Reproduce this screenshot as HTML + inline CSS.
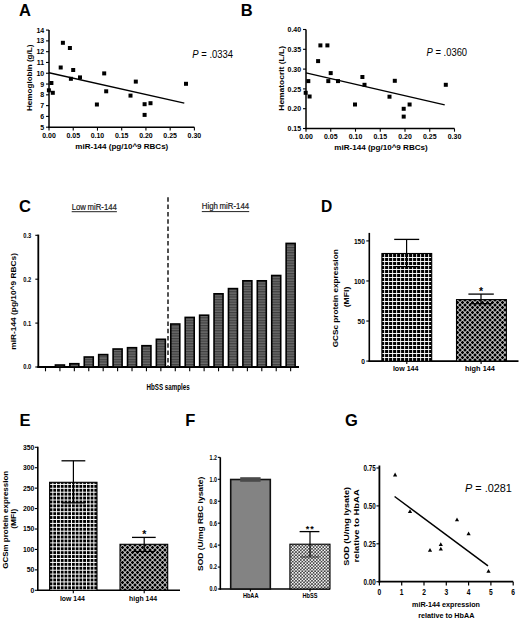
<!DOCTYPE html>
<html><head><meta charset="utf-8"><title>Figure</title>
<style>
html,body{margin:0;padding:0;background:#fff;}
body{width:520px;height:621px;overflow:hidden;}
svg{display:block;font-family:"Liberation Sans", sans-serif;}
</style></head><body>
<svg width="520" height="621" viewBox="0 0 520 621" font-family='"Liberation Sans", sans-serif'>
<rect width="520" height="621" fill="#fff"/>
<defs>
<pattern id="hstripe" width="4" height="2.6" patternUnits="userSpaceOnUse">
  <rect width="4" height="2.6" fill="#6a6a6a"/>
  <rect y="0" width="4" height="1.2" fill="#404040"/>
</pattern>
<pattern id="sq4" x="381" y="254" width="4" height="4" patternUnits="userSpaceOnUse">
  <rect width="4" height="4" fill="#fff"/>
  <rect x="0.1" y="0" width="3.1" height="3.05" fill="#000"/>
</pattern>
<pattern id="sq4e" x="49.6" y="481.0" width="3.73" height="3.9" patternUnits="userSpaceOnUse">
  <rect width="3.73" height="3.9" fill="#fff"/>
  <rect x="0" y="0" width="2.8" height="2.9" fill="#000"/>
</pattern>
<pattern id="xh5" width="5" height="5" patternUnits="userSpaceOnUse">
  <rect width="5" height="5" fill="#000"/>
  <path d="M-1 3.5 L3.5 -1 M1.5 6 L6 1.5 M1.5 -1 L6 3.5 M-1 1.5 L3.5 6" stroke="#fff" stroke-width="1.0"/>
</pattern>
<pattern id="xh3" width="3.2" height="3.2" patternUnits="userSpaceOnUse">
  <rect width="3.2" height="3.2" fill="#000"/>
  <path d="M-0.8 2.4 L2.4 -0.8 M0.8 4.0 L4.0 0.8 M0.8 -0.8 L4.0 2.4 M-0.8 0.8 L2.4 4.0" stroke="#fff" stroke-width="0.85"/>
</pattern>
</defs>
<text x="19.00" y="15.80" font-size="16.5" font-weight="bold" text-anchor="start" >A</text>
<line x1="49.00" y1="30.09" x2="49.00" y2="127.90" stroke="#000" stroke-width="1.5" />
<line x1="48.30" y1="127.20" x2="194.40" y2="127.20" stroke="#000" stroke-width="1.5" />
<line x1="46.00" y1="127.20" x2="49.00" y2="127.20" stroke="#000" stroke-width="1.1" />
<text x="44.20" y="129.70" font-size="7.0" font-weight="bold" text-anchor="end" >5</text>
<line x1="46.00" y1="116.41" x2="49.00" y2="116.41" stroke="#000" stroke-width="1.1" />
<text x="44.20" y="118.91" font-size="7.0" font-weight="bold" text-anchor="end" >6</text>
<line x1="46.00" y1="105.62" x2="49.00" y2="105.62" stroke="#000" stroke-width="1.1" />
<text x="44.20" y="108.12" font-size="7.0" font-weight="bold" text-anchor="end" >7</text>
<line x1="46.00" y1="94.83" x2="49.00" y2="94.83" stroke="#000" stroke-width="1.1" />
<text x="44.20" y="97.33" font-size="7.0" font-weight="bold" text-anchor="end" >8</text>
<line x1="46.00" y1="84.04" x2="49.00" y2="84.04" stroke="#000" stroke-width="1.1" />
<text x="44.20" y="86.54" font-size="7.0" font-weight="bold" text-anchor="end" >9</text>
<line x1="46.00" y1="73.25" x2="49.00" y2="73.25" stroke="#000" stroke-width="1.1" />
<text x="44.20" y="75.75" font-size="7.0" font-weight="bold" text-anchor="end" >10</text>
<line x1="46.00" y1="62.46" x2="49.00" y2="62.46" stroke="#000" stroke-width="1.1" />
<text x="44.20" y="64.96" font-size="7.0" font-weight="bold" text-anchor="end" >11</text>
<line x1="46.00" y1="51.67" x2="49.00" y2="51.67" stroke="#000" stroke-width="1.1" />
<text x="44.20" y="54.17" font-size="7.0" font-weight="bold" text-anchor="end" >12</text>
<line x1="46.00" y1="40.88" x2="49.00" y2="40.88" stroke="#000" stroke-width="1.1" />
<text x="44.20" y="43.38" font-size="7.0" font-weight="bold" text-anchor="end" >13</text>
<line x1="46.00" y1="30.09" x2="49.00" y2="30.09" stroke="#000" stroke-width="1.1" />
<text x="44.20" y="32.59" font-size="7.0" font-weight="bold" text-anchor="end" >14</text>
<line x1="49.00" y1="127.20" x2="49.00" y2="130.60" stroke="#000" stroke-width="1.1" />
<text x="49.00" y="137.50" font-size="7.5" font-weight="bold" text-anchor="middle" textLength="13.6" lengthAdjust="spacingAndGlyphs" >0.00</text>
<line x1="73.23" y1="127.20" x2="73.23" y2="130.60" stroke="#000" stroke-width="1.1" />
<text x="73.23" y="137.50" font-size="7.5" font-weight="bold" text-anchor="middle" textLength="13.6" lengthAdjust="spacingAndGlyphs" >0.05</text>
<line x1="97.47" y1="127.20" x2="97.47" y2="130.60" stroke="#000" stroke-width="1.1" />
<text x="97.47" y="137.50" font-size="7.5" font-weight="bold" text-anchor="middle" textLength="13.6" lengthAdjust="spacingAndGlyphs" >0.10</text>
<line x1="121.70" y1="127.20" x2="121.70" y2="130.60" stroke="#000" stroke-width="1.1" />
<text x="121.70" y="137.50" font-size="7.5" font-weight="bold" text-anchor="middle" textLength="13.6" lengthAdjust="spacingAndGlyphs" >0.15</text>
<line x1="145.93" y1="127.20" x2="145.93" y2="130.60" stroke="#000" stroke-width="1.1" />
<text x="145.93" y="137.50" font-size="7.5" font-weight="bold" text-anchor="middle" textLength="13.6" lengthAdjust="spacingAndGlyphs" >0.20</text>
<line x1="170.17" y1="127.20" x2="170.17" y2="130.60" stroke="#000" stroke-width="1.1" />
<text x="170.17" y="137.50" font-size="7.5" font-weight="bold" text-anchor="middle" textLength="13.6" lengthAdjust="spacingAndGlyphs" >0.25</text>
<line x1="194.40" y1="127.20" x2="194.40" y2="130.60" stroke="#000" stroke-width="1.1" />
<text x="194.40" y="137.50" font-size="7.5" font-weight="bold" text-anchor="middle" textLength="13.6" lengthAdjust="spacingAndGlyphs" >0.30</text>
<text x="121.80" y="148.50" font-size="8" font-weight="bold" text-anchor="middle" textLength="93" lengthAdjust="spacingAndGlyphs" >miR-144 (pg/10^9 RBCs)</text>
<text x="32.30" y="77.80" font-size="7.0" font-weight="bold" text-anchor="middle" textLength="66.4" lengthAdjust="spacingAndGlyphs" transform="rotate(-90 32.30 77.80)" >Hemoglobin (g/L)</text>
<rect x="60.90" y="40.80" width="4.00" height="4.00" fill="#000"/>
<rect x="67.90" y="46.00" width="4.00" height="4.00" fill="#000"/>
<rect x="58.70" y="65.50" width="4.00" height="4.00" fill="#000"/>
<rect x="71.20" y="68.00" width="4.00" height="4.00" fill="#000"/>
<rect x="68.90" y="76.80" width="4.00" height="4.00" fill="#000"/>
<rect x="78.00" y="75.40" width="4.00" height="4.00" fill="#000"/>
<rect x="102.20" y="71.40" width="4.00" height="4.00" fill="#000"/>
<rect x="104.20" y="89.30" width="4.00" height="4.00" fill="#000"/>
<rect x="94.90" y="102.50" width="4.00" height="4.00" fill="#000"/>
<rect x="49.40" y="81.00" width="4.00" height="4.00" fill="#000"/>
<rect x="46.90" y="88.30" width="4.00" height="4.00" fill="#000"/>
<rect x="50.80" y="90.80" width="4.00" height="4.00" fill="#000"/>
<rect x="133.80" y="79.60" width="4.00" height="4.00" fill="#000"/>
<rect x="128.50" y="93.60" width="4.00" height="4.00" fill="#000"/>
<rect x="142.60" y="102.20" width="4.00" height="4.00" fill="#000"/>
<rect x="148.50" y="101.20" width="4.00" height="4.00" fill="#000"/>
<rect x="142.60" y="112.90" width="4.00" height="4.00" fill="#000"/>
<rect x="184.00" y="81.80" width="4.00" height="4.00" fill="#000"/>
<line x1="49.00" y1="72.70" x2="184.30" y2="103.10" stroke="#000" stroke-width="1.4" />
<text x="192.3" y="57.8" font-size="10" textLength="40.8" lengthAdjust="spacingAndGlyphs" font-family='"Liberation Sans", sans-serif'><tspan font-style="italic">P</tspan> = .0334</text>
<text x="240.80" y="15.80" font-size="16.5" font-weight="bold" text-anchor="start" >B</text>
<line x1="306.00" y1="29.50" x2="306.00" y2="129.20" stroke="#000" stroke-width="1.5" />
<line x1="305.30" y1="128.50" x2="454.50" y2="128.50" stroke="#000" stroke-width="1.5" />
<line x1="303.00" y1="128.50" x2="306.00" y2="128.50" stroke="#000" stroke-width="1.1" />
<text x="301.10" y="131.10" font-size="7.4" font-weight="bold" text-anchor="end" textLength="13.6" lengthAdjust="spacingAndGlyphs" >0.15</text>
<line x1="303.00" y1="108.70" x2="306.00" y2="108.70" stroke="#000" stroke-width="1.1" />
<text x="301.10" y="111.30" font-size="7.4" font-weight="bold" text-anchor="end" textLength="13.6" lengthAdjust="spacingAndGlyphs" >0.20</text>
<line x1="303.00" y1="88.90" x2="306.00" y2="88.90" stroke="#000" stroke-width="1.1" />
<text x="301.10" y="91.50" font-size="7.4" font-weight="bold" text-anchor="end" textLength="13.6" lengthAdjust="spacingAndGlyphs" >0.25</text>
<line x1="303.00" y1="69.10" x2="306.00" y2="69.10" stroke="#000" stroke-width="1.1" />
<text x="301.10" y="71.70" font-size="7.4" font-weight="bold" text-anchor="end" textLength="13.6" lengthAdjust="spacingAndGlyphs" >0.30</text>
<line x1="303.00" y1="49.30" x2="306.00" y2="49.30" stroke="#000" stroke-width="1.1" />
<text x="301.10" y="51.90" font-size="7.4" font-weight="bold" text-anchor="end" textLength="13.6" lengthAdjust="spacingAndGlyphs" >0.35</text>
<line x1="303.00" y1="29.50" x2="306.00" y2="29.50" stroke="#000" stroke-width="1.1" />
<text x="301.10" y="32.10" font-size="7.4" font-weight="bold" text-anchor="end" textLength="13.6" lengthAdjust="spacingAndGlyphs" >0.40</text>
<line x1="306.00" y1="128.50" x2="306.00" y2="131.70" stroke="#000" stroke-width="1.1" />
<text x="306.00" y="138.80" font-size="7.5" font-weight="bold" text-anchor="middle" textLength="13.6" lengthAdjust="spacingAndGlyphs" >0.00</text>
<line x1="330.75" y1="128.50" x2="330.75" y2="131.70" stroke="#000" stroke-width="1.1" />
<text x="330.75" y="138.80" font-size="7.5" font-weight="bold" text-anchor="middle" textLength="13.6" lengthAdjust="spacingAndGlyphs" >0.05</text>
<line x1="355.50" y1="128.50" x2="355.50" y2="131.70" stroke="#000" stroke-width="1.1" />
<text x="355.50" y="138.80" font-size="7.5" font-weight="bold" text-anchor="middle" textLength="13.6" lengthAdjust="spacingAndGlyphs" >0.10</text>
<line x1="380.25" y1="128.50" x2="380.25" y2="131.70" stroke="#000" stroke-width="1.1" />
<text x="380.25" y="138.80" font-size="7.5" font-weight="bold" text-anchor="middle" textLength="13.6" lengthAdjust="spacingAndGlyphs" >0.15</text>
<line x1="405.00" y1="128.50" x2="405.00" y2="131.70" stroke="#000" stroke-width="1.1" />
<text x="405.00" y="138.80" font-size="7.5" font-weight="bold" text-anchor="middle" textLength="13.6" lengthAdjust="spacingAndGlyphs" >0.20</text>
<line x1="429.75" y1="128.50" x2="429.75" y2="131.70" stroke="#000" stroke-width="1.1" />
<text x="429.75" y="138.80" font-size="7.5" font-weight="bold" text-anchor="middle" textLength="13.6" lengthAdjust="spacingAndGlyphs" >0.25</text>
<line x1="454.50" y1="128.50" x2="454.50" y2="131.70" stroke="#000" stroke-width="1.1" />
<text x="454.50" y="138.80" font-size="7.5" font-weight="bold" text-anchor="middle" textLength="13.6" lengthAdjust="spacingAndGlyphs" >0.30</text>
<text x="381.00" y="150.40" font-size="8" font-weight="bold" text-anchor="middle" textLength="93.5" lengthAdjust="spacingAndGlyphs" >miR-144 (pg/10^9 RBCs)</text>
<text x="283.60" y="78.30" font-size="7.0" font-weight="bold" text-anchor="middle" textLength="64.8" lengthAdjust="spacingAndGlyphs" transform="rotate(-90 283.60 78.30)" >Hematocrit (L/L)</text>
<rect x="318.40" y="43.40" width="4.00" height="4.00" fill="#000"/>
<rect x="325.40" y="43.40" width="4.00" height="4.00" fill="#000"/>
<rect x="316.10" y="59.10" width="4.00" height="4.00" fill="#000"/>
<rect x="328.70" y="71.10" width="4.00" height="4.00" fill="#000"/>
<rect x="326.30" y="79.10" width="4.00" height="4.00" fill="#000"/>
<rect x="336.00" y="79.10" width="4.00" height="4.00" fill="#000"/>
<rect x="306.30" y="79.10" width="4.00" height="4.00" fill="#000"/>
<rect x="303.70" y="90.80" width="4.00" height="4.00" fill="#000"/>
<rect x="307.60" y="94.50" width="4.00" height="4.00" fill="#000"/>
<rect x="360.40" y="75.00" width="4.00" height="4.00" fill="#000"/>
<rect x="362.50" y="82.80" width="4.00" height="4.00" fill="#000"/>
<rect x="353.00" y="102.50" width="4.00" height="4.00" fill="#000"/>
<rect x="392.80" y="78.80" width="4.00" height="4.00" fill="#000"/>
<rect x="387.50" y="94.70" width="4.00" height="4.00" fill="#000"/>
<rect x="401.70" y="106.80" width="4.00" height="4.00" fill="#000"/>
<rect x="407.60" y="102.50" width="4.00" height="4.00" fill="#000"/>
<rect x="401.70" y="114.60" width="4.00" height="4.00" fill="#000"/>
<rect x="443.80" y="82.80" width="4.00" height="4.00" fill="#000"/>
<line x1="306.00" y1="72.90" x2="444.70" y2="104.90" stroke="#000" stroke-width="1.4" />
<text x="426.6" y="55.5" font-size="10" textLength="40.5" lengthAdjust="spacingAndGlyphs" font-family='"Liberation Sans", sans-serif'><tspan font-style="italic">P</tspan> = .0360</text>
<text x="19.00" y="212.40" font-size="16.5" font-weight="bold" text-anchor="start" >C</text>
<line x1="38.30" y1="234.60" x2="38.30" y2="367.90" stroke="#000" stroke-width="1.8" />
<line x1="37.40" y1="367.00" x2="299.00" y2="367.00" stroke="#000" stroke-width="1.8" />
<line x1="35.30" y1="367.00" x2="38.30" y2="367.00" stroke="#000" stroke-width="1.1" />
<text x="31.20" y="369.40" font-size="7.2" font-weight="bold" text-anchor="end" textLength="8.0" lengthAdjust="spacingAndGlyphs" >0.0</text>
<line x1="35.30" y1="323.10" x2="38.30" y2="323.10" stroke="#000" stroke-width="1.1" />
<text x="31.20" y="325.50" font-size="7.2" font-weight="bold" text-anchor="end" textLength="8.0" lengthAdjust="spacingAndGlyphs" >0.1</text>
<line x1="35.30" y1="279.20" x2="38.30" y2="279.20" stroke="#000" stroke-width="1.1" />
<text x="31.20" y="281.60" font-size="7.2" font-weight="bold" text-anchor="end" textLength="8.0" lengthAdjust="spacingAndGlyphs" >0.2</text>
<line x1="35.30" y1="235.30" x2="38.30" y2="235.30" stroke="#000" stroke-width="1.1" />
<text x="31.20" y="237.70" font-size="7.2" font-weight="bold" text-anchor="end" textLength="8.0" lengthAdjust="spacingAndGlyphs" >0.3</text>
<line x1="45.50" y1="367.00" x2="45.50" y2="371.30" stroke="#000" stroke-width="1.1" />
<line x1="59.92" y1="367.00" x2="59.92" y2="371.30" stroke="#000" stroke-width="1.1" />
<rect x="55.42" y="365.00" width="9.0" height="2.00" fill="url(#hstripe)" stroke="#000" stroke-width="1.6"/>
<line x1="74.34" y1="367.00" x2="74.34" y2="371.30" stroke="#000" stroke-width="1.1" />
<rect x="69.84" y="363.70" width="9.0" height="3.30" fill="url(#hstripe)" stroke="#000" stroke-width="1.6"/>
<line x1="88.76" y1="367.00" x2="88.76" y2="371.30" stroke="#000" stroke-width="1.1" />
<rect x="84.26" y="357.00" width="9.0" height="10.00" fill="url(#hstripe)" stroke="#000" stroke-width="1.6"/>
<line x1="103.18" y1="367.00" x2="103.18" y2="371.30" stroke="#000" stroke-width="1.1" />
<rect x="98.68" y="354.60" width="9.0" height="12.40" fill="url(#hstripe)" stroke="#000" stroke-width="1.6"/>
<line x1="117.60" y1="367.00" x2="117.60" y2="371.30" stroke="#000" stroke-width="1.1" />
<rect x="113.10" y="349.00" width="9.0" height="18.00" fill="url(#hstripe)" stroke="#000" stroke-width="1.6"/>
<line x1="132.02" y1="367.00" x2="132.02" y2="371.30" stroke="#000" stroke-width="1.1" />
<rect x="127.52" y="347.70" width="9.0" height="19.30" fill="url(#hstripe)" stroke="#000" stroke-width="1.6"/>
<line x1="146.44" y1="367.00" x2="146.44" y2="371.30" stroke="#000" stroke-width="1.1" />
<rect x="141.94" y="345.70" width="9.0" height="21.30" fill="url(#hstripe)" stroke="#000" stroke-width="1.6"/>
<line x1="160.86" y1="367.00" x2="160.86" y2="371.30" stroke="#000" stroke-width="1.1" />
<rect x="156.36" y="339.30" width="9.0" height="27.70" fill="url(#hstripe)" stroke="#000" stroke-width="1.6"/>
<line x1="175.28" y1="367.00" x2="175.28" y2="371.30" stroke="#000" stroke-width="1.1" />
<rect x="170.78" y="324.00" width="9.0" height="43.00" fill="url(#hstripe)" stroke="#000" stroke-width="1.6"/>
<line x1="189.70" y1="367.00" x2="189.70" y2="371.30" stroke="#000" stroke-width="1.1" />
<rect x="185.20" y="317.40" width="9.0" height="49.60" fill="url(#hstripe)" stroke="#000" stroke-width="1.6"/>
<line x1="204.12" y1="367.00" x2="204.12" y2="371.30" stroke="#000" stroke-width="1.1" />
<rect x="199.62" y="315.20" width="9.0" height="51.80" fill="url(#hstripe)" stroke="#000" stroke-width="1.6"/>
<line x1="218.54" y1="367.00" x2="218.54" y2="371.30" stroke="#000" stroke-width="1.1" />
<rect x="214.04" y="293.80" width="9.0" height="73.20" fill="url(#hstripe)" stroke="#000" stroke-width="1.6"/>
<line x1="232.96" y1="367.00" x2="232.96" y2="371.30" stroke="#000" stroke-width="1.1" />
<rect x="228.46" y="288.60" width="9.0" height="78.40" fill="url(#hstripe)" stroke="#000" stroke-width="1.6"/>
<line x1="247.38" y1="367.00" x2="247.38" y2="371.30" stroke="#000" stroke-width="1.1" />
<rect x="242.88" y="280.80" width="9.0" height="86.20" fill="url(#hstripe)" stroke="#000" stroke-width="1.6"/>
<line x1="261.80" y1="367.00" x2="261.80" y2="371.30" stroke="#000" stroke-width="1.1" />
<rect x="257.30" y="280.80" width="9.0" height="86.20" fill="url(#hstripe)" stroke="#000" stroke-width="1.6"/>
<line x1="276.22" y1="367.00" x2="276.22" y2="371.30" stroke="#000" stroke-width="1.1" />
<rect x="271.72" y="275.50" width="9.0" height="91.50" fill="url(#hstripe)" stroke="#000" stroke-width="1.6"/>
<line x1="290.64" y1="367.00" x2="290.64" y2="371.30" stroke="#000" stroke-width="1.1" />
<rect x="286.14" y="243.40" width="9.0" height="123.60" fill="url(#hstripe)" stroke="#000" stroke-width="1.6"/>
<line x1="168.00" y1="197.30" x2="168.00" y2="367.00" stroke="#181818" stroke-width="1.5" stroke-dasharray="4.5 2.8"/>
<text x="71.70" y="209.50" font-size="8.8" font-weight="normal" text-anchor="start" textLength="45.2" lengthAdjust="spacingAndGlyphs" fill="#1a1a1a" stroke="#1a1a1a" stroke-width="0.2" word-spacing="-0.7">Low miR-144</text>
<line x1="71.70" y1="211.70" x2="116.90" y2="211.70" stroke="#222" stroke-width="1.0" />
<text x="201.80" y="209.20" font-size="8.8" font-weight="normal" text-anchor="start" textLength="47.4" lengthAdjust="spacingAndGlyphs" fill="#1a1a1a" stroke="#1a1a1a" stroke-width="0.2" word-spacing="-0.7">High miR-144</text>
<line x1="201.80" y1="211.60" x2="249.20" y2="211.60" stroke="#222" stroke-width="1.0" />
<text x="146.60" y="389.80" font-size="8.3" font-weight="bold" text-anchor="start" textLength="43.1" lengthAdjust="spacingAndGlyphs" >HbSS samples</text>
<text x="15.80" y="301.40" font-size="6.5" font-weight="bold" text-anchor="middle" textLength="96.7" lengthAdjust="spacingAndGlyphs" transform="rotate(-90 15.80 301.40)" >miR-144 (pg/10^9 RBCs)</text>
<text x="320.90" y="212.20" font-size="15.6" font-weight="bold" text-anchor="start" >D</text>
<line x1="369.30" y1="232.90" x2="369.30" y2="361.90" stroke="#000" stroke-width="1.6" />
<line x1="368.50" y1="361.10" x2="518.50" y2="361.10" stroke="#000" stroke-width="1.6" />
<line x1="366.30" y1="361.10" x2="369.30" y2="361.10" stroke="#000" stroke-width="1.1" />
<text x="364.90" y="363.80" font-size="7.5" font-weight="bold" text-anchor="end" textLength="3.67" lengthAdjust="spacingAndGlyphs" >0</text>
<line x1="366.30" y1="321.04" x2="369.30" y2="321.04" stroke="#000" stroke-width="1.1" />
<text x="364.90" y="323.74" font-size="7.5" font-weight="bold" text-anchor="end" textLength="7.34" lengthAdjust="spacingAndGlyphs" >50</text>
<line x1="366.30" y1="280.97" x2="369.30" y2="280.97" stroke="#000" stroke-width="1.1" />
<text x="364.90" y="283.67" font-size="7.5" font-weight="bold" text-anchor="end" textLength="11.01" lengthAdjust="spacingAndGlyphs" >100</text>
<line x1="366.30" y1="240.91" x2="369.30" y2="240.91" stroke="#000" stroke-width="1.1" />
<text x="364.90" y="243.61" font-size="7.5" font-weight="bold" text-anchor="end" textLength="11.01" lengthAdjust="spacingAndGlyphs" >150</text>
<rect x="381.9" y="253.5" width="49.8" height="107.80" fill="url(#sq4)" stroke="#000" stroke-width="1.1"/>
<rect x="456.5" y="299.6" width="49.9" height="61.50" fill="url(#xh5)" stroke="#000" stroke-width="1.1"/>
<line x1="406.60" y1="239.40" x2="406.60" y2="266.60" stroke="#000" stroke-width="1.2" />
<line x1="394.20" y1="239.40" x2="419.20" y2="239.40" stroke="#000" stroke-width="1.3" />
<line x1="396.00" y1="266.60" x2="418.80" y2="266.60" stroke="#000" stroke-width="1.2" />
<line x1="481.00" y1="294.10" x2="481.00" y2="303.70" stroke="#000" stroke-width="1.2" />
<line x1="468.40" y1="294.10" x2="493.80" y2="294.10" stroke="#000" stroke-width="1.3" />
<line x1="470.00" y1="303.70" x2="492.00" y2="303.70" stroke="#000" stroke-width="1.2" />
<text x="481.00" y="294.80" font-size="10.5" font-weight="bold" text-anchor="middle" >*</text>
<line x1="406.80" y1="361.10" x2="406.80" y2="364.10" stroke="#000" stroke-width="1.1" />
<line x1="481.10" y1="361.10" x2="481.10" y2="364.10" stroke="#000" stroke-width="1.1" />
<text x="405.70" y="371.40" font-size="7.2" font-weight="bold" text-anchor="middle" textLength="25.6" lengthAdjust="spacingAndGlyphs" >low 144</text>
<text x="480.00" y="371.40" font-size="7.2" font-weight="bold" text-anchor="middle" textLength="29.8" lengthAdjust="spacingAndGlyphs" >high 144</text>
<text x="338.50" y="298.30" font-size="7.0" font-weight="bold" text-anchor="middle" textLength="97.9" lengthAdjust="spacingAndGlyphs" transform="rotate(-90 338.50 298.30)" >GCSc protein expression</text>
<text x="349.00" y="297.00" font-size="6.8" font-weight="bold" text-anchor="middle" textLength="20.5" lengthAdjust="spacingAndGlyphs" transform="rotate(-90 349.00 297.00)" >(MFI)</text>
<text x="19.50" y="426.00" font-size="16.5" font-weight="bold" text-anchor="start" >E</text>
<line x1="37.80" y1="446.70" x2="37.80" y2="591.10" stroke="#000" stroke-width="1.6" />
<line x1="37.00" y1="590.30" x2="180.00" y2="590.30" stroke="#000" stroke-width="1.6" />
<line x1="34.80" y1="590.30" x2="37.80" y2="590.30" stroke="#000" stroke-width="1.1" />
<text x="34.40" y="592.70" font-size="6.8" font-weight="bold" text-anchor="end" >0</text>
<line x1="34.80" y1="569.87" x2="37.80" y2="569.87" stroke="#000" stroke-width="1.1" />
<text x="34.40" y="572.27" font-size="6.8" font-weight="bold" text-anchor="end" >50</text>
<line x1="34.80" y1="549.44" x2="37.80" y2="549.44" stroke="#000" stroke-width="1.1" />
<text x="34.40" y="551.84" font-size="6.8" font-weight="bold" text-anchor="end" >100</text>
<line x1="34.80" y1="529.01" x2="37.80" y2="529.01" stroke="#000" stroke-width="1.1" />
<text x="34.40" y="531.41" font-size="6.8" font-weight="bold" text-anchor="end" >150</text>
<line x1="34.80" y1="508.58" x2="37.80" y2="508.58" stroke="#000" stroke-width="1.1" />
<text x="34.40" y="510.98" font-size="6.8" font-weight="bold" text-anchor="end" >200</text>
<line x1="34.80" y1="488.15" x2="37.80" y2="488.15" stroke="#000" stroke-width="1.1" />
<text x="34.40" y="490.55" font-size="6.8" font-weight="bold" text-anchor="end" >250</text>
<line x1="34.80" y1="467.72" x2="37.80" y2="467.72" stroke="#000" stroke-width="1.1" />
<text x="34.40" y="470.12" font-size="6.8" font-weight="bold" text-anchor="end" >300</text>
<line x1="34.80" y1="447.29" x2="37.80" y2="447.29" stroke="#000" stroke-width="1.1" />
<text x="34.40" y="449.69" font-size="6.8" font-weight="bold" text-anchor="end" >350</text>
<rect x="49.6" y="482.3" width="47.4" height="108.00" fill="url(#sq4e)" stroke="#000" stroke-width="1.1"/>
<rect x="120.0" y="544.3" width="47.7" height="46.00" fill="url(#xh5)" stroke="#000" stroke-width="1.1"/>
<line x1="73.40" y1="460.80" x2="73.40" y2="502.80" stroke="#000" stroke-width="1.2" />
<line x1="61.50" y1="460.80" x2="85.30" y2="460.80" stroke="#000" stroke-width="1.3" />
<line x1="62.00" y1="502.80" x2="85.00" y2="502.80" stroke="#000" stroke-width="1.2" />
<line x1="144.20" y1="537.40" x2="144.20" y2="551.50" stroke="#000" stroke-width="1.2" />
<line x1="132.00" y1="537.40" x2="155.70" y2="537.40" stroke="#000" stroke-width="1.3" />
<line x1="133.00" y1="551.50" x2="155.00" y2="551.50" stroke="#000" stroke-width="1.2" />
<text x="144.20" y="537.60" font-size="10.5" font-weight="bold" text-anchor="middle" >*</text>
<line x1="73.30" y1="590.30" x2="73.30" y2="593.30" stroke="#000" stroke-width="1.1" />
<line x1="144.20" y1="590.30" x2="144.20" y2="593.30" stroke="#000" stroke-width="1.1" />
<text x="72.40" y="600.80" font-size="6.9" font-weight="bold" text-anchor="middle" >low 144</text>
<text x="143.10" y="600.80" font-size="6.9" font-weight="bold" text-anchor="middle" >high 144</text>
<text x="8.10" y="519.80" font-size="6.5" font-weight="bold" text-anchor="middle" textLength="97.9" lengthAdjust="spacingAndGlyphs" transform="rotate(-90 8.10 519.80)" >GCSm protein expression</text>
<text x="16.50" y="518.70" font-size="6.8" font-weight="bold" text-anchor="middle" textLength="20.0" lengthAdjust="spacingAndGlyphs" transform="rotate(-90 16.50 518.70)" >(MFI)</text>
<text x="185.20" y="426.10" font-size="16.5" font-weight="bold" text-anchor="start" >F</text>
<line x1="220.30" y1="457.30" x2="220.30" y2="589.80" stroke="#000" stroke-width="1.6" />
<line x1="219.50" y1="589.00" x2="330.00" y2="589.00" stroke="#000" stroke-width="1.6" />
<line x1="217.80" y1="589.00" x2="220.30" y2="589.00" stroke="#000" stroke-width="1.1" />
<text x="216.90" y="591.40" font-size="6.7" font-weight="bold" text-anchor="end" textLength="7.4" lengthAdjust="spacingAndGlyphs" >0.0</text>
<line x1="217.80" y1="567.06" x2="220.30" y2="567.06" stroke="#000" stroke-width="1.1" />
<text x="216.90" y="569.46" font-size="6.7" font-weight="bold" text-anchor="end" textLength="7.4" lengthAdjust="spacingAndGlyphs" >0.2</text>
<line x1="217.80" y1="545.12" x2="220.30" y2="545.12" stroke="#000" stroke-width="1.1" />
<text x="216.90" y="547.52" font-size="6.7" font-weight="bold" text-anchor="end" textLength="7.4" lengthAdjust="spacingAndGlyphs" >0.4</text>
<line x1="217.80" y1="523.18" x2="220.30" y2="523.18" stroke="#000" stroke-width="1.1" />
<text x="216.90" y="525.58" font-size="6.7" font-weight="bold" text-anchor="end" textLength="7.4" lengthAdjust="spacingAndGlyphs" >0.6</text>
<line x1="217.80" y1="501.24" x2="220.30" y2="501.24" stroke="#000" stroke-width="1.1" />
<text x="216.90" y="503.64" font-size="6.7" font-weight="bold" text-anchor="end" textLength="7.4" lengthAdjust="spacingAndGlyphs" >0.8</text>
<line x1="217.80" y1="479.30" x2="220.30" y2="479.30" stroke="#000" stroke-width="1.1" />
<text x="216.90" y="481.70" font-size="6.7" font-weight="bold" text-anchor="end" textLength="7.4" lengthAdjust="spacingAndGlyphs" >1.0</text>
<line x1="217.80" y1="457.36" x2="220.30" y2="457.36" stroke="#000" stroke-width="1.1" />
<text x="216.90" y="459.76" font-size="6.7" font-weight="bold" text-anchor="end" textLength="7.4" lengthAdjust="spacingAndGlyphs" >1.2</text>
<rect x="230.7" y="479.5" width="39.6" height="109.50" fill="#838383" stroke="#111" stroke-width="1.6"/>
<rect x="289.9" y="544.2" width="40.1" height="44.80" fill="url(#xh3)" stroke="#000" stroke-width="1.1"/>
<rect x="240.20" y="477.20" width="20.40" height="4.60" fill="#4a4a4a"/>
<line x1="310.00" y1="531.60" x2="310.00" y2="557.00" stroke="#000" stroke-width="1.2" />
<line x1="299.60" y1="531.60" x2="319.40" y2="531.60" stroke="#000" stroke-width="1.3" />
<line x1="300.50" y1="557.00" x2="319.00" y2="557.00" stroke="#333" stroke-width="1.0" />
<text x="310.20" y="532.00" font-size="9.0" font-weight="bold" text-anchor="middle" letter-spacing="0.9">**</text>
<line x1="250.40" y1="589.00" x2="250.40" y2="591.50" stroke="#000" stroke-width="1.1" />
<line x1="310.00" y1="589.00" x2="310.00" y2="591.50" stroke="#000" stroke-width="1.1" />
<text x="250.70" y="597.70" font-size="6.3" font-weight="bold" text-anchor="middle" textLength="15.6" lengthAdjust="spacingAndGlyphs" >HbAA</text>
<text x="310.00" y="597.70" font-size="6.3" font-weight="bold" text-anchor="middle" textLength="14.9" lengthAdjust="spacingAndGlyphs" >HbSS</text>
<text x="203.30" y="523.80" font-size="7.8" font-weight="bold" text-anchor="middle" textLength="94.4" lengthAdjust="spacingAndGlyphs" transform="rotate(-90 203.30 523.80)" >SOD (U/mg RBC lysate)</text>
<text x="344.90" y="426.20" font-size="16.5" font-weight="bold" text-anchor="start" >G</text>
<line x1="379.40" y1="465.50" x2="379.40" y2="582.60" stroke="#000" stroke-width="1.8" />
<line x1="378.50" y1="581.70" x2="513.20" y2="581.70" stroke="#000" stroke-width="1.8" />
<line x1="376.40" y1="581.70" x2="379.40" y2="581.70" stroke="#000" stroke-width="1.1" />
<text x="375.70" y="584.60" font-size="8.2" font-weight="bold" text-anchor="end" textLength="12.2" lengthAdjust="spacingAndGlyphs" >0.00</text>
<line x1="376.40" y1="543.80" x2="379.40" y2="543.80" stroke="#000" stroke-width="1.1" />
<text x="375.70" y="546.70" font-size="8.2" font-weight="bold" text-anchor="end" textLength="12.2" lengthAdjust="spacingAndGlyphs" >0.25</text>
<line x1="376.40" y1="505.90" x2="379.40" y2="505.90" stroke="#000" stroke-width="1.1" />
<text x="375.70" y="508.80" font-size="8.2" font-weight="bold" text-anchor="end" textLength="12.2" lengthAdjust="spacingAndGlyphs" >0.50</text>
<line x1="376.40" y1="468.00" x2="379.40" y2="468.00" stroke="#000" stroke-width="1.1" />
<text x="375.70" y="470.90" font-size="8.2" font-weight="bold" text-anchor="end" textLength="12.2" lengthAdjust="spacingAndGlyphs" >0.75</text>
<line x1="379.40" y1="581.70" x2="379.40" y2="585.50" stroke="#000" stroke-width="1.2" />
<text x="379.40" y="594.60" font-size="8.4" font-weight="bold" text-anchor="middle" textLength="3.7" lengthAdjust="spacingAndGlyphs" >0</text>
<line x1="401.70" y1="581.70" x2="401.70" y2="585.50" stroke="#000" stroke-width="1.2" />
<text x="401.70" y="594.60" font-size="8.4" font-weight="bold" text-anchor="middle" textLength="3.7" lengthAdjust="spacingAndGlyphs" >1</text>
<line x1="424.00" y1="581.70" x2="424.00" y2="585.50" stroke="#000" stroke-width="1.2" />
<text x="424.00" y="594.60" font-size="8.4" font-weight="bold" text-anchor="middle" textLength="3.7" lengthAdjust="spacingAndGlyphs" >2</text>
<line x1="446.30" y1="581.70" x2="446.30" y2="585.50" stroke="#000" stroke-width="1.2" />
<text x="446.30" y="594.60" font-size="8.4" font-weight="bold" text-anchor="middle" textLength="3.7" lengthAdjust="spacingAndGlyphs" >3</text>
<line x1="468.60" y1="581.70" x2="468.60" y2="585.50" stroke="#000" stroke-width="1.2" />
<text x="468.60" y="594.60" font-size="8.4" font-weight="bold" text-anchor="middle" textLength="3.7" lengthAdjust="spacingAndGlyphs" >4</text>
<line x1="490.90" y1="581.70" x2="490.90" y2="585.50" stroke="#000" stroke-width="1.2" />
<text x="490.90" y="594.60" font-size="8.4" font-weight="bold" text-anchor="middle" textLength="3.7" lengthAdjust="spacingAndGlyphs" >5</text>
<line x1="513.20" y1="581.70" x2="513.20" y2="585.50" stroke="#000" stroke-width="1.2" />
<text x="513.20" y="594.60" font-size="8.4" font-weight="bold" text-anchor="middle" textLength="3.7" lengthAdjust="spacingAndGlyphs" >6</text>
<path d="M395.10 472.60 L397.20 476.40 L393.00 476.40 Z" fill="#000"/>
<path d="M410.00 509.20 L412.10 513.00 L407.90 513.00 Z" fill="#000"/>
<path d="M430.00 547.90 L432.10 551.70 L427.90 551.70 Z" fill="#000"/>
<path d="M440.80 542.30 L442.90 546.10 L438.70 546.10 Z" fill="#000"/>
<path d="M440.80 546.80 L442.90 550.60 L438.70 550.60 Z" fill="#000"/>
<path d="M457.00 517.50 L459.10 521.30 L454.90 521.30 Z" fill="#000"/>
<path d="M468.60 531.50 L470.70 535.30 L466.50 535.30 Z" fill="#000"/>
<path d="M488.50 568.90 L490.60 572.70 L486.40 572.70 Z" fill="#000"/>
<line x1="394.60" y1="496.50" x2="488.00" y2="565.90" stroke="#000" stroke-width="1.5" />
<text x="465.0" y="491.6" font-size="10.9" font-family='"Liberation Sans", sans-serif'><tspan font-style="italic">P</tspan> = .0281</text>
<text x="348.90" y="526.40" font-size="7.6" font-weight="bold" text-anchor="middle" textLength="78.9" lengthAdjust="spacingAndGlyphs" transform="rotate(-90 348.90 526.40)" >SOD (U/mg lysate)</text>
<text x="359.00" y="525.90" font-size="7.6" font-weight="bold" text-anchor="middle" textLength="73.2" lengthAdjust="spacingAndGlyphs" transform="rotate(-90 359.00 525.90)" >relative to HbAA</text>
<text x="446.00" y="607.30" font-size="7.8" font-weight="bold" text-anchor="middle" textLength="67.9" lengthAdjust="spacingAndGlyphs" >miR-144 expression</text>
<text x="446.30" y="617.60" font-size="7.8" font-weight="bold" text-anchor="middle" textLength="56.2" lengthAdjust="spacingAndGlyphs" >relative to HbAA</text>
</svg>
</body></html>
